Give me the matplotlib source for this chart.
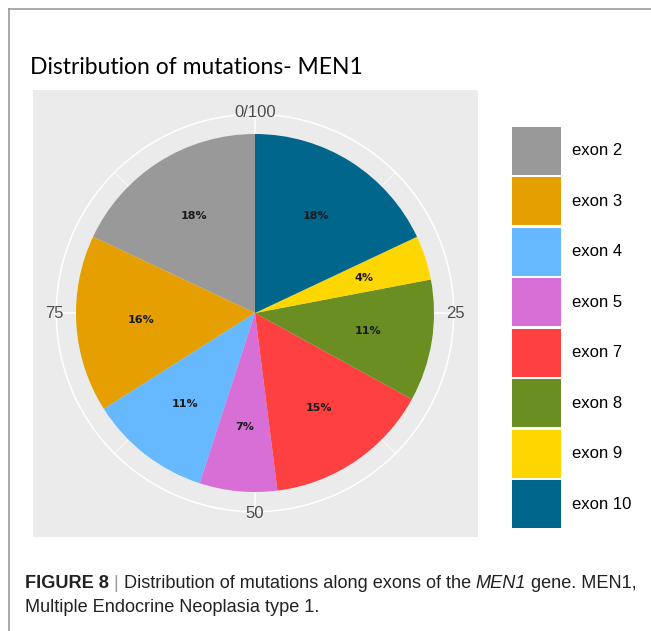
import matplotlib
matplotlib.use("Agg")
import matplotlib.pyplot as plt
import numpy as np
from matplotlib.patches import Circle
from matplotlib.lines import Line2D

# ---- data ----
exons = ["exon 2", "exon 3", "exon 4", "exon 5", "exon 7", "exon 8", "exon 9", "exon 10"]
percent = [18, 16, 11, 7, 15, 11, 4, 18]
colors = ["#999999", "#E69F00", "#66B8FF", "#D76FD6", "#FF4040", "#6B8E23", "#FFD700", "#00668C"]
theta_ticks = [0, 25, 50, 75]
theta_tick_labels = ["0/100", "25", "50", "75"]
minor_ticks = [12.5, 37.5, 62.5, 87.5]

W, H = 651, 631
fig = plt.figure(figsize=(W / 100, H / 100), dpi=100)
fig.patch.set_facecolor("white")

# panel
px0, px1, py0, py1 = 33, 478, 90, 537
ax = fig.add_axes([px0 / W, 1 - py1 / H, (px1 - px0) / W, (py1 - py0) / H])
R_px = 179.0
cx, cy = 255.0, 313.0

wedges, _ = ax.pie(percent, colors=colors, startangle=90, counterclock=True,
                   radius=1.0, frame=True, wedgeprops=dict(linewidth=0, zorder=2))
ax.set_xlim((px0 - cx) / R_px, (px1 - cx) / R_px)
ax.set_ylim((cy - py1) / R_px, (cy - py0) / R_px)
ax.set_aspect("auto")
ax.set_facecolor("#EBEBEB")
for s in ax.spines.values():
    s.set_visible(False)
ax.set_xticks([])
ax.set_yticks([])

# polar grid
r_out = 1.11
ax.add_patch(Circle((0, 0), r_out, fill=False, ec="white", lw=1.1, zorder=1))
for v in theta_ticks:
    a = np.deg2rad(90 - v * 3.6)
    ax.plot([0, r_out * np.cos(a)], [0, r_out * np.sin(a)], color="white", lw=1.1, zorder=1)
for v in minor_ticks:
    a = np.deg2rad(90 - v * 3.6)
    ax.plot([0, r_out * np.cos(a)], [0, r_out * np.sin(a)], color="white", lw=0.5, zorder=1)
for v, lab in zip(theta_ticks, theta_tick_labels):
    a = np.deg2rad(90 - v * 3.6)
    rr = 1.12
    ax.text(rr * np.cos(a), rr * np.sin(a), lab, ha="center", va="center",
            fontsize=12, color="#4D4D4D", family="Liberation Sans", zorder=3)

# percent labels
cum = np.cumsum([0] + percent)
for i, p in enumerate(percent):
    mid = (cum[i] + cum[i + 1]) / 2.0
    a = np.deg2rad(90 + mid * 3.6)
    rl = 0.64
    ax.text(rl * np.cos(a), rl * np.sin(a), f"{p}%", ha="center", va="center",
            fontsize=8, fontweight="bold", color="#1a1a1a", family="DejaVu Sans", zorder=4)

# legend
fs = 12
leg = fig.legend(wedges, exons, loc="upper left",
                 bbox_to_anchor=(512 / W, 1 - 127 / H), frameon=False,
                 prop={"family": "Liberation Sans", "size": fs},
                 handlelength=2.91, handleheight=4.05, labelspacing=0.15,
                 handletextpad=0.72, borderpad=0, borderaxespad=0)

# title
fig.text(30 / W, 1 - 68 / H, "Distribution of mutations- MEN1", ha="left", va="center",
         fontsize=16.5, family="Lato", color="black")

# border lines
fig.add_artist(Line2D([8.5 / W, 1], [1 - 8.5 / H, 1 - 8.5 / H], color="#999999", lw=1.2,
                      transform=fig.transFigure))
fig.add_artist(Line2D([8.5 / W, 8.5 / W], [1 - 8.5 / H, 0], color="#999999", lw=1.2,
                      transform=fig.transFigure))

# caption
fig.canvas.draw()
renderer = fig.canvas.get_renderer()
cap_fs = 13.1
parts = [("FIGURE 8", "bold", "normal", "#222222"),
         (" | ", "normal", "normal", "#999999"),
         ("Distribution of mutations along exons of the ", "normal", "normal", "#222222"),
         ("MEN1", "normal", "italic", "#222222"),
         (" gene. MEN1,", "normal", "normal", "#222222")]
x = 25
y1 = 1 - 588 / H
for txt, w, st, c in parts:
    t = fig.text(x / W, y1, txt, ha="left", va="baseline", fontsize=cap_fs,
                 fontweight=w, fontstyle=st, color=c, family="Liberation Sans")
    bb = t.get_window_extent(renderer)
    x = bb.x1
fig.text(25 / W, 1 - 612 / H, "Multiple Endocrine Neoplasia type 1.", ha="left",
         va="baseline", fontsize=cap_fs, color="#222222", family="Liberation Sans")

fig.savefig("out.png", dpi=100, facecolor="white")
